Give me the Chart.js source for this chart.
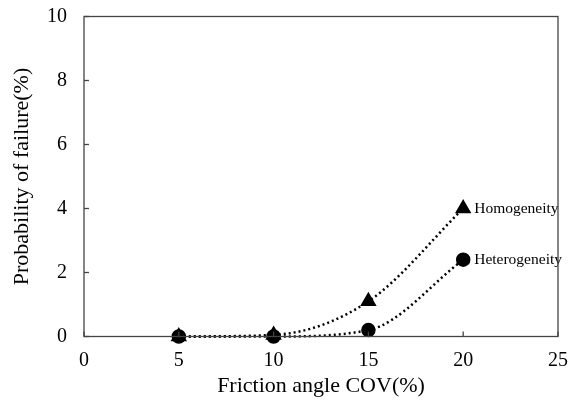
<!DOCTYPE html>
<html>
<head>
<meta charset="utf-8">
<script src="https://cdn.jsdelivr.net/npm/chart.js@4"></script>
<style>
  html, body { margin: 0; padding: 0; background: #fff; }
  #wrap { width: 568px; height: 401px; }
</style>
</head>
<body>
<div id="wrap"><canvas id="myChart"></canvas></div>
<script>
// data
const covValues = [5, 10, 15, 20]
const homogeneity = [0, 0.05, 1.1, 4.0]
const heterogeneity = [0, 0, 0.2, 2.4]
const seriesNames = ['Homogeneity', 'Heterogeneity']

const serif = '"Liberation Serif", "Times New Roman", serif'

// box round the plot area and inward tick marks
const frame = {
  id: 'frame',
  afterDraw(chart) {
    const { ctx, chartArea: a, scales } = chart
    ctx.save()
    ctx.strokeStyle = '#444'
    ctx.lineWidth = 1.3
    ctx.strokeRect(a.left, a.top, a.right - a.left, a.bottom - a.top)
    scales.x.ticks.forEach((t) => {
      const px = scales.x.getPixelForValue(t.value)
      ctx.beginPath()
      ctx.moveTo(px, a.bottom)
      ctx.lineTo(px, a.bottom - 5)
      ctx.stroke()
    })
    scales.y.ticks.forEach((t) => {
      const py = scales.y.getPixelForValue(t.value)
      ctx.beginPath()
      ctx.moveTo(a.left, py)
      ctx.lineTo(a.left + 5, py)
      ctx.stroke()
    })
    ctx.restore()
  },
}

// series names next to the last point
const endLabels = {
  id: 'endLabels',
  afterDatasetsDraw(chart) {
    const { ctx } = chart
    ctx.save()
    ctx.fillStyle = '#000'
    ctx.font = '15.5px ' + serif
    ctx.textBaseline = 'middle'
    chart.data.datasets.forEach((ds, i) => {
      const meta = chart.getDatasetMeta(i)
      const pt = meta.data[meta.data.length - 1]
      ctx.fillText(ds.label, pt.x + 11, pt.y)
    })
    ctx.restore()
  },
}

const toPoints = (ys) => covValues.map((x, i) => ({ x, y: ys[i] }))

const chart = new Chart(document.querySelector('#myChart'), {
  type: 'line',
  data: {
    datasets: [
      {
        label: seriesNames[0],
        data: toPoints(homogeneity),
        borderColor: '#000',
        backgroundColor: '#000',
        borderWidth: 2.5,
        borderDash: [2, 3],
        pointStyle: 'triangle',
        pointRadius: 7,
        cubicInterpolationMode: 'monotone',
      },
      {
        label: seriesNames[1],
        data: toPoints(heterogeneity),
        borderColor: '#000',
        backgroundColor: '#000',
        borderWidth: 2.5,
        borderDash: [2, 3],
        pointStyle: 'circle',
        pointRadius: 6,
        cubicInterpolationMode: 'monotone',
      },
    ],
  },
  options: {
    responsive: true,
    maintainAspectRatio: false,
    animation: false,
    clip: false,
    layout: { padding: 0 },
    plugins: { legend: { display: false }, tooltip: { enabled: false } },
    scales: {
      x: {
        type: 'linear',
        min: 0,
        max: 25,
        ticks: { stepSize: 5, color: '#000', font: { family: serif, size: 20 }, padding: 4 },
        grid: { display: false },
        border: { display: false },
        title: {
          display: true,
          text: 'Friction angle COV(%)',
          color: '#000',
          font: { family: serif, size: 22 },
          padding: { top: 4, bottom: 2 },
        },
        afterFit(scale) {
          scale.height = 64.5
          scale.paddingRight = 10
        },
      },
      y: {
        min: 0,
        max: 10,
        ticks: { stepSize: 2, color: '#000', font: { family: serif, size: 20 }, padding: 9 },
        grid: { display: false },
        border: { display: false },
        title: {
          display: true,
          text: 'Probability of failure(%)',
          color: '#000',
          font: { family: serif, size: 22 },
          padding: { top: 9, bottom: 8 },
        },
        afterFit(scale) {
          scale.width = 84
          scale.paddingTop = 16.5
        },
      },
    },
  },
  plugins: [frame, endLabels],
})
</script>
</body>
</html>
